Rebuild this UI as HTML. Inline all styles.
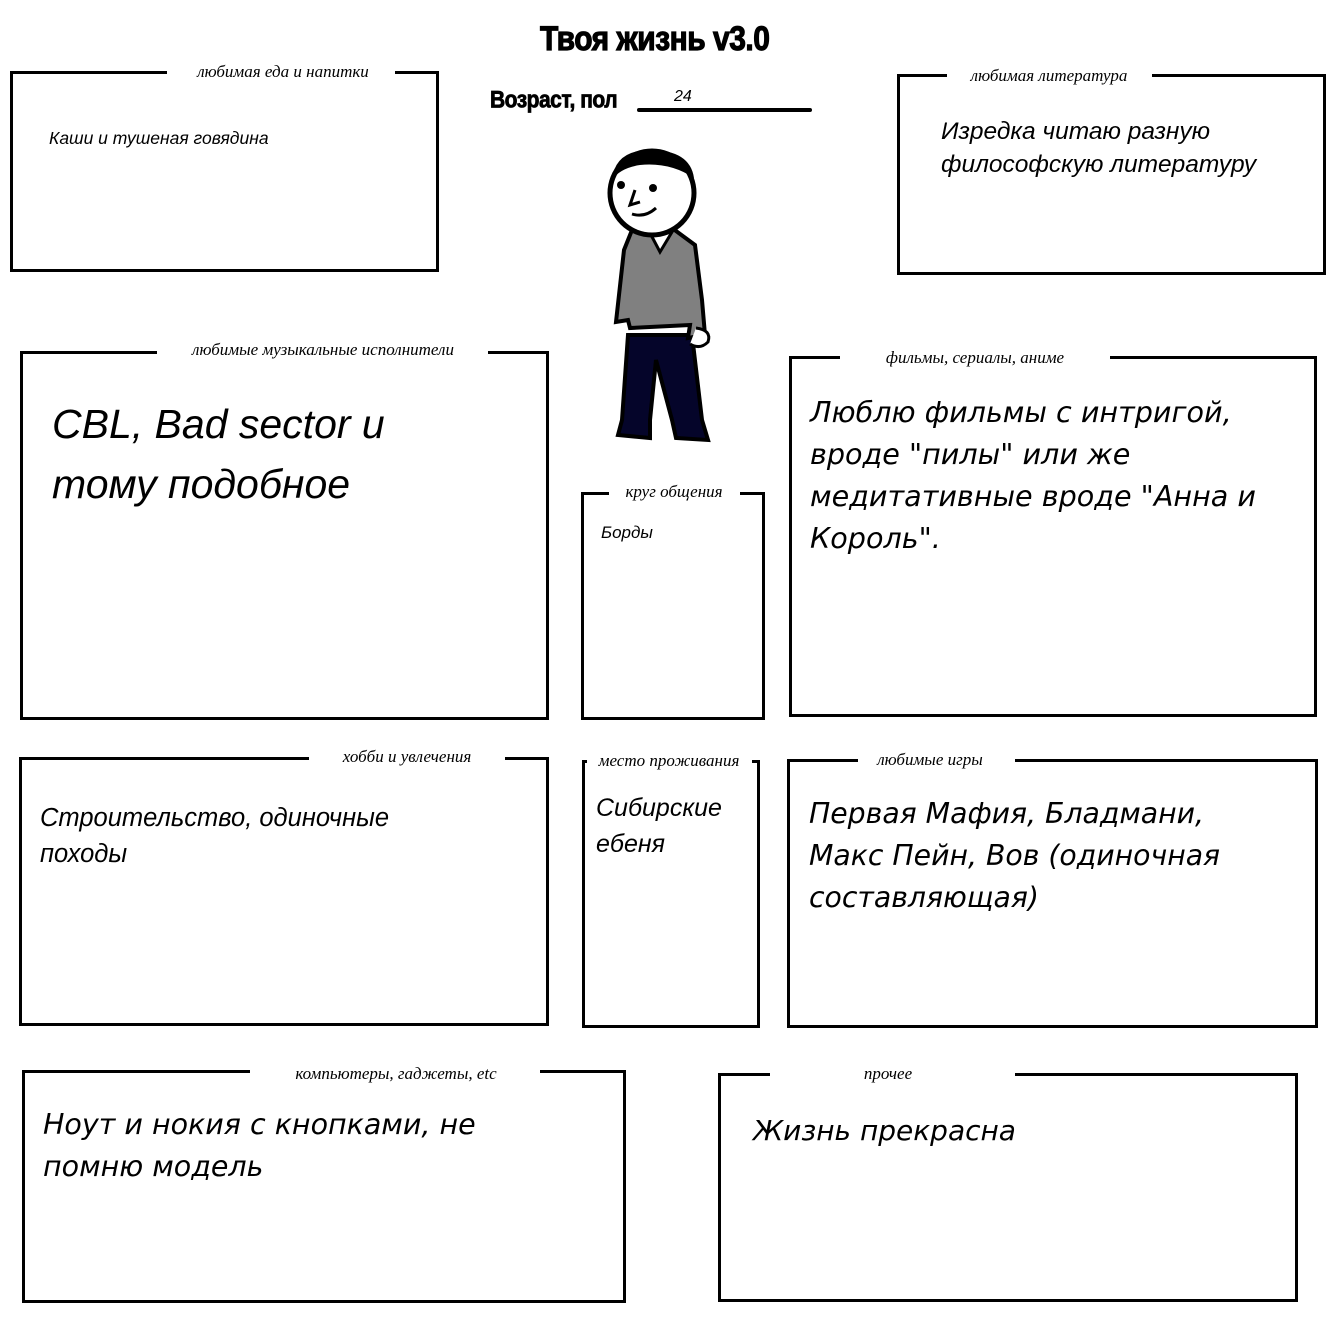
<!DOCTYPE html>
<html><head><meta charset="utf-8"><style>
body{margin:0;width:1344px;height:1317px;background:#fff;position:relative;overflow:hidden;font-family:"DejaVu Sans",sans-serif}
.b{position:absolute;border:3px solid #000;box-sizing:border-box}
.g{position:absolute;height:6px;background:#fff}
.l{position:absolute;font-family:"Liberation Serif",serif;font-style:italic;font-size:17px;white-space:nowrap;transform:translateX(-50%);line-height:16px}
.t{position:absolute;font-family:"DejaVu Sans",sans-serif;font-style:italic;color:#000;white-space:nowrap}
.s{font-family:"Liberation Sans",sans-serif}
</style></head><body>
<div style="position:absolute;left:540px;top:20px;font-family:'Liberation Sans Narrow','Liberation Sans',sans-serif;font-weight:bold;font-size:30px;transform:scaleY(1.15);transform-origin:top left;letter-spacing:-0.5px;-webkit-text-stroke:1px #000">Твоя жизнь v3.0</div>
<div style="position:absolute;left:490px;top:87px;font-family:'Liberation Sans Narrow','Liberation Sans',sans-serif;font-weight:bold;font-size:21px;transform:scaleY(1.15);transform-origin:top left;letter-spacing:-0.5px;-webkit-text-stroke:0.7px #000">Возраст, пол</div>
<div style="position:absolute;left:637px;top:108px;width:175px;height:4px;background:#000;border-radius:2px"></div>
<div class="t s" style="left:674px;top:88px;font-size:16px">24</div>

<div class="b" style="left:10px;top:71px;width:429px;height:201px"></div><div class="g" style="left:167px;top:70px;width:228px"></div><div class="l" style="left:283px;top:64px">любимая еда и напитки</div>
<div class="t s" style="left:49px;top:128px;font-size:17.5px">Каши и тушеная говядина</div>

<div class="b" style="left:897px;top:74px;width:429px;height:201px"></div><div class="g" style="left:947px;top:73px;width:205px"></div><div class="l" style="left:1049px;top:68px">любимая литература</div>
<div class="t s" style="left:941px;top:115px;font-size:24.5px;line-height:33px">Изредка читаю разную<br>философскую литературу</div>

<div class="b" style="left:20px;top:351px;width:529px;height:369px"></div><div class="g" style="left:157px;top:350px;width:331px"></div><div class="l" style="left:323px;top:342px">любимые музыкальные исполнители</div>
<div class="t s" style="left:52px;top:394px;font-size:41px;line-height:60px">CBL, Bad sector и<br>тому подобное</div>

<div class="b" style="left:789px;top:356px;width:528px;height:361px"></div><div class="g" style="left:840px;top:355px;width:270px"></div><div class="l" style="left:975px;top:350px">фильмы, сериалы, аниме</div>
<div class="t" style="left:810px;top:391px;font-size:28.6px;line-height:42px">Люблю фильмы с интригой,<br>вроде "пилы" или же<br>медитативные вроде "Анна и<br>Король".</div>

<div class="b" style="left:581px;top:492px;width:184px;height:228px"></div><div class="g" style="left:609px;top:491px;width:131px"></div><div class="l" style="left:674px;top:484px">круг общения</div>
<div class="t s" style="left:601px;top:523px;font-size:17px">Борды</div>

<div class="b" style="left:19px;top:757px;width:530px;height:269px"></div><div class="g" style="left:309px;top:756px;width:196px"></div><div class="l" style="left:407px;top:749px">хобби и увлечения</div>
<div class="t s" style="left:40px;top:800px;font-size:25.5px;line-height:36px">Строительство, одиночные<br>походы</div>

<div class="b" style="left:582px;top:760px;width:178px;height:268px"></div><div class="g" style="left:587px;top:759px;width:165px"></div><div class="l" style="left:669px;top:753px">место проживания</div>
<div class="t s" style="left:596px;top:790px;font-size:25px;line-height:36px">Сибирские<br>ебеня</div>

<div class="b" style="left:787px;top:759px;width:531px;height:269px"></div><div class="g" style="left:858px;top:758px;width:157px"></div><div class="l" style="left:930px;top:752px">любимые игры</div>
<div class="t" style="left:809px;top:793px;font-size:28.3px;line-height:42px">Первая Мафия, Бладмани,<br>Макс Пейн, Вов (одиночная<br>составляющая)</div>

<div class="b" style="left:22px;top:1070px;width:604px;height:233px"></div><div class="g" style="left:250px;top:1069px;width:290px"></div><div class="l" style="left:396px;top:1066px">компьютеры, гаджеты, etc</div>
<div class="t" style="left:43px;top:1104px;font-size:28.5px;line-height:42px">Ноут и нокия с кнопками, не<br>помню модель</div>

<div class="b" style="left:718px;top:1073px;width:580px;height:229px"></div><div class="g" style="left:770px;top:1072px;width:245px"></div><div class="l" style="left:888px;top:1066px">прочее</div>
<div class="t" style="left:753px;top:1114px;font-size:28px">Жизнь прекрасна</div>

<svg style="position:absolute;left:600px;top:145px" width="120" height="305" viewBox="600 145 120 305">
<path d="M628 335 L622 420 L618 435 L650 438 L650 420 L656 360 L672 420 L676 438 L708 440 L702 420 L692 335 Z" fill="#05052a" stroke="#000" stroke-width="4"/>
<path d="M632 230 L672 228 L695 245 L702 300 L705 335 L688 338 L690 325 L630 328 L628 320 L616 322 L624 250 Z" fill="#808080" stroke="#000" stroke-width="4"/>
<path d="M650 233 L660 252 L672 232 Z" fill="#fff" stroke="#000" stroke-width="3"/>
<path d="M696 328 Q712 330 708 342 Q700 350 690 344" fill="#fff" stroke="#000" stroke-width="3"/>
<circle cx="652" cy="193" r="42" fill="#fff" stroke="#000" stroke-width="5"/>
<path d="M612 180 Q615 150 650 150 Q690 150 694 178 Q670 162 640 165 Q620 168 612 180 Z" fill="#000"/>
<circle cx="621" cy="185" r="4" fill="#000"/><circle cx="653" cy="188" r="4" fill="#000"/>
<path d="M635 190 L630 205 L640 202" fill="none" stroke="#000" stroke-width="3"/>
<path d="M632 214 Q645 218 656 208" fill="none" stroke="#000" stroke-width="3"/>
</svg>
</body></html>
